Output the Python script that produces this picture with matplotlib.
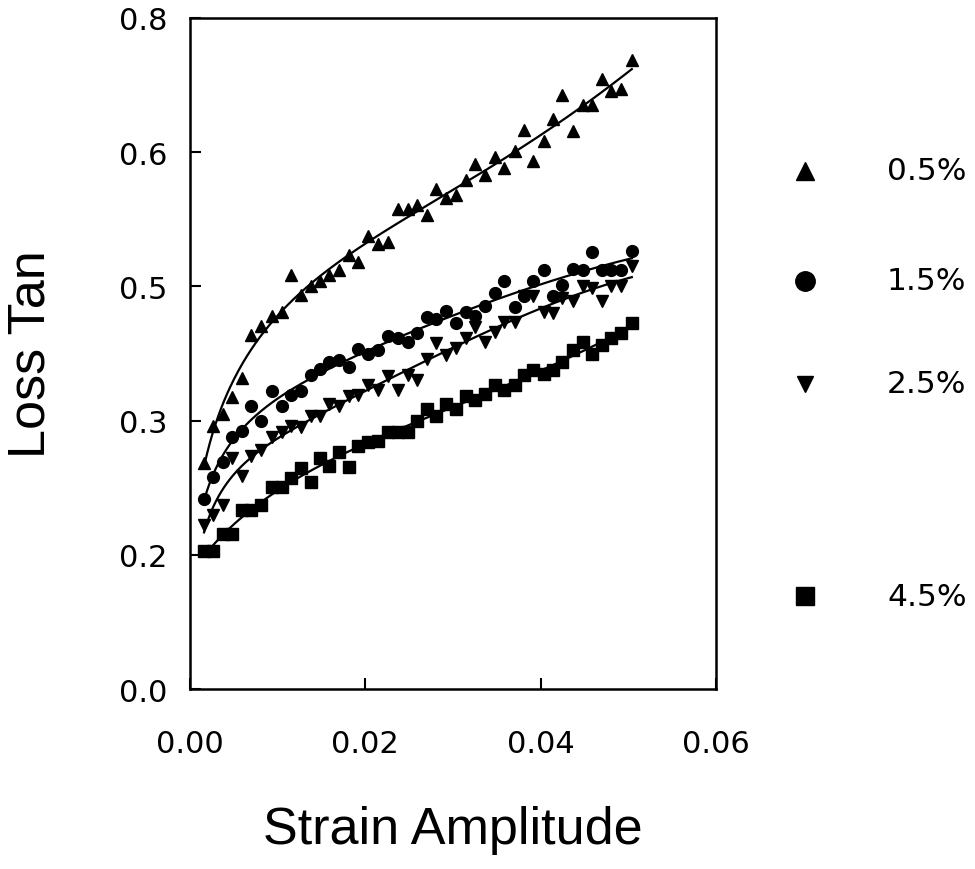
import numpy as np
import matplotlib
matplotlib.use("Agg")
import matplotlib.pyplot as plt
from matplotlib.lines import Line2D
from matplotlib.ticker import FormatStrFormatter

plt.rcParams['font.family'] = ['Liberation Sans', 'DejaVu Sans']

strain = [0.0016, 0.0026, 0.0038, 0.0048, 0.0059, 0.0070, 0.0081, 0.0094, 0.0105,
          0.0115, 0.0127, 0.0138, 0.0148, 0.0159, 0.0170, 0.0181, 0.0192, 0.0203,
          0.0214, 0.0226, 0.0237, 0.0249, 0.0259, 0.0270, 0.0281, 0.0292, 0.0303,
          0.0315, 0.0325, 0.0337, 0.0348, 0.0358, 0.0371, 0.0381, 0.0391, 0.0404,
          0.0414, 0.0424, 0.0437, 0.0448, 0.0459, 0.0470, 0.0480, 0.0492, 0.0504]

tan_05 = [0.269, 0.314, 0.328, 0.348, 0.371, 0.422, 0.433, 0.445, 0.450, 0.494,
          0.470, 0.481, 0.486, 0.493, 0.499, 0.517, 0.509, 0.540, 0.530, 0.533,
          0.572, 0.572, 0.577, 0.565, 0.596, 0.585, 0.589, 0.607, 0.626, 0.613,
          0.634, 0.621, 0.642, 0.666, 0.629, 0.653, 0.679, 0.708, 0.665, 0.696,
          0.696, 0.727, 0.713, 0.715, 0.750]

tan_15 = [0.227, 0.253, 0.271, 0.301, 0.308, 0.338, 0.319, 0.355, 0.338, 0.350,
          0.355, 0.374, 0.382, 0.390, 0.392, 0.384, 0.405, 0.400, 0.404, 0.421,
          0.418, 0.414, 0.424, 0.444, 0.441, 0.451, 0.436, 0.450, 0.445, 0.457,
          0.472, 0.486, 0.456, 0.469, 0.486, 0.500, 0.469, 0.482, 0.501, 0.499,
          0.521, 0.499, 0.500, 0.499, 0.522]

tan_25 = [0.196, 0.208, 0.219, 0.275, 0.254, 0.278, 0.285, 0.300, 0.306, 0.313,
          0.312, 0.326, 0.326, 0.340, 0.337, 0.349, 0.350, 0.362, 0.356, 0.373,
          0.357, 0.374, 0.368, 0.394, 0.413, 0.398, 0.407, 0.419, 0.431, 0.414,
          0.426, 0.438, 0.437, 0.468, 0.469, 0.449, 0.448, 0.466, 0.463, 0.481,
          0.478, 0.463, 0.481, 0.481, 0.504]

tan_45 = [0.164, 0.164, 0.185, 0.185, 0.213, 0.213, 0.219, 0.241, 0.241, 0.251,
          0.263, 0.247, 0.276, 0.266, 0.283, 0.265, 0.290, 0.295, 0.296, 0.307,
          0.307, 0.307, 0.319, 0.334, 0.325, 0.340, 0.334, 0.349, 0.344, 0.352,
          0.362, 0.356, 0.362, 0.374, 0.380, 0.376, 0.380, 0.390, 0.404, 0.414,
          0.400, 0.410, 0.419, 0.424, 0.436]

labels = ['0.5%', '1.5%', '2.5%', '4.5%']
markers = ['^', 'o', 'v', 's']
sizes = [9, 8.5, 9, 8]
series = [tan_05, tan_15, tan_25, tan_45]

fig = plt.figure(figsize=(9.75, 8.7), dpi=100)
ax = fig.add_axes([190/975, 1-690/870, (716-190)/975, (690-19)/870])

x = np.array(strain)
for ys, m, s in zip(series, markers, sizes):
    y = np.array(ys)
    t = np.sqrt(x)
    coef = np.polyfit(t, y, 4)
    xf = np.linspace(x.min(), x.max(), 300)
    ax.plot(xf, np.polyval(coef, np.sqrt(xf)), color='black', lw=1.6)
    ax.plot(x, y, linestyle='none', marker=m, ms=s, color='black')

ax.set_xlim(0, 0.06)
ax.set_ylim(0, 0.8)
ax.set_xticks([0, 0.02, 0.04, 0.06])
ax.xaxis.set_major_formatter(FormatStrFormatter('%.2f'))
ax.set_yticks([0, 0.16, 0.32, 0.48, 0.64, 0.8])
ax.yaxis.set_major_formatter(FormatStrFormatter('%.1f'))
ax.tick_params(axis='y', direction='in', length=8, width=1.5, pad=16)
ax.tick_params(axis='x', direction='in', length=8, width=1.5, pad=29)
for lbl in ax.get_xticklabels() + ax.get_yticklabels():
    lbl.set_fontfamily(['DejaVu Sans'])
    lbl.set_fontsize(22)
for sp in ax.spines.values():
    sp.set_linewidth(1.8)

ax.set_ylabel('Loss Tan', fontsize=37.5)
ax.yaxis.set_label_coords(-0.255, 0.5)
ax.set_xlabel('Strain Amplitude', fontsize=37.5)
ax.xaxis.set_label_coords(0.5, -0.173)

leg_y = [172, 282, 385, 597]
leg_ms = [13, 14, 12, 13]
for lab, m, ly, lms in zip(labels, markers, leg_y, leg_ms):
    fig.add_artist(Line2D([805/975], [1-ly/870], marker=m, ms=lms, color='black',
                          linestyle='none', transform=fig.transFigure))
    fig.text(887/975, 1-ly/870, lab, fontsize=22.5, va='center', ha='left',
             family=['DejaVu Sans'])

fig.savefig('out.png', dpi=100, facecolor='white')
